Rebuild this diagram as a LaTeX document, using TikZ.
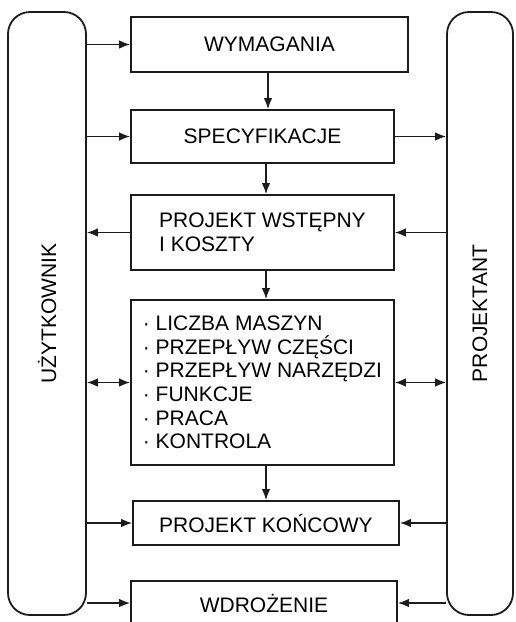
\documentclass[tikz,border=0pt]{standalone}
\usepackage{fontspec}
\setmainfont{Liberation Sans}
\usetikzlibrary{arrows.meta,positioning,calc}
\definecolor{InkDark}{HTML}{1C1C1C}
\tikzset{
  procbox/.style={draw=InkDark,line width=1.8pt,inner sep=4pt,align=center,fill=white,font=\fontsize{21}{23.6}\selectfont},
  sidebar/.style={draw=InkDark,line width=1.8pt,rounded corners=22pt,fill=white},
  barlabel/.style={rotate=90,font=\fontsize{21}{24}\selectfont},
  flowarrow/.style={-{Latex[length=11pt,width=8.5pt]},line width=1.3pt,draw=InkDark},
  bothway/.style={{Latex[length=11pt,width=8.5pt]}-{Latex[length=11pt,width=8.5pt]},line width=1.3pt,draw=InkDark}
}
\begin{document}
\begin{tikzpicture}[x=1pt,y=-1pt]
\useasboundingbox (0,0) rectangle (516,622);
% side bars
\node[sidebar,minimum width=78pt,minimum height=603pt] (user) at (47,313.5) {};
\node[sidebar,minimum width=66pt,minimum height=603pt] (designer) at (480,313.5) {};
\node[barlabel] (userlbl) at (user.center) {UŻYTKOWNIK};
\node[barlabel] (designerlbl) at (designer.center) {PROJEKTANT};
% process boxes
\node[procbox,minimum width=277pt,minimum height=55pt] (req) at (269.5,44.5) {WYMAGANIA};
\node[procbox,minimum width=263pt,minimum height=53pt] (spec) at (262.5,136.5) {SPECYFIKACJE};
\node[procbox,minimum width=263pt,minimum height=75pt,align=left] (pre) at (262.5,232.5) {PROJEKT WSTĘPNY\\I KOSZTY};
\node[procbox,minimum width=263pt,minimum height=165pt,align=left] (layout) at (262.5,382.5)
  {· LICZBA MASZYN\\· PRZEPŁYW CZĘŚCI\\· PRZEPŁYW NARZĘDZI\\· FUNKCJE\\· PRACA\\· KONTROLA};
\node[procbox,minimum width=266pt,minimum height=44pt] (final) at (266,523) {PROJEKT KOŃCOWY};
\node[procbox,minimum width=266pt,minimum height=44pt] (impl) at (264,603) {WDROŻENIE};
% main flow
\draw[flowarrow] (req.south -| 268,0) -- (spec.north -| 268,0);
\draw[flowarrow] (spec.south -| 266,0) -- (pre.north -| 266,0);
\draw[flowarrow] (pre.south -| 266,0) -- (layout.north -| 266,0);
\draw[flowarrow] (layout.south -| 266,0) -- (final.north -| 266,0);
% user side
\draw[flowarrow] (user.east |- req.west) -- (req.west);
\draw[flowarrow] (user.east |- spec.west) -- (spec.west);
\draw[flowarrow] (pre.west) -- (pre.west -| user.east);
\draw[bothway] (user.east |- layout.west) -- (layout.west);
\draw[flowarrow] (user.east |- final.west) -- (final.west);
\draw[flowarrow] (user.east |- impl.west) -- (impl.west);
% designer side
\draw[flowarrow] (spec.east) -- (spec.east -| designer.west);
\draw[flowarrow] (designer.west |- pre.east) -- (pre.east);
\draw[bothway] (layout.east) -- (layout.east -| designer.west);
\draw[flowarrow] (designer.west |- final.east) -- (final.east);
\draw[flowarrow] (designer.west |- impl.east) -- (impl.east);
\end{tikzpicture}
\end{document}
